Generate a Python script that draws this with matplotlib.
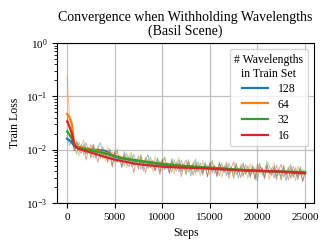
import numpy as np
import matplotlib
matplotlib.use("Agg")
import matplotlib.pyplot as plt

plt.rcParams['font.family'] = ['Liberation Serif', 'DejaVu Serif']
plt.rcParams['mathtext.fontset'] = 'stix'

labels = ["128", "64", "32", "16"]
colors = ["#1f77b4", "#ff7f0e", "#2ca02c", "#d62728"]

smooth_steps = [0, 250, 500, 750, 1000, 1500, 2000, 3000, 4000, 5000, 6000, 7000,
                8000, 9000, 10000, 12000, 14000, 16000, 18000, 20000, 22000, 25000]
smooth_128 = [0.016, 0.015, 0.0135, 0.0118, 0.0112, 0.0108, 0.0104, 0.0099, 0.0095, 0.0074, 0.0068,
              0.0063, 0.0059, 0.0056, 0.0053, 0.0049, 0.0046, 0.0044, 0.0042, 0.0040, 0.0039, 0.0037]
smooth_64 = [0.047, 0.040, 0.030, 0.013, 0.0115, 0.011, 0.0105, 0.0096, 0.0088, 0.0076, 0.0069,
             0.0064, 0.0060, 0.0057, 0.0054, 0.0050, 0.0047, 0.0044, 0.0042, 0.0040, 0.0039, 0.0037]
smooth_32 = [0.022, 0.019, 0.016, 0.0125, 0.0112, 0.0106, 0.0101, 0.0093, 0.0085, 0.0075, 0.0068,
             0.0064, 0.0060, 0.0057, 0.0054, 0.0050, 0.0047, 0.0045, 0.0042, 0.0040, 0.0039, 0.0038]
smooth_16 = [0.034, 0.027, 0.020, 0.0125, 0.0108, 0.0100, 0.0094, 0.0083, 0.0073, 0.0065, 0.0060,
             0.0055, 0.0052, 0.0050, 0.0048, 0.0046, 0.0045, 0.0043, 0.0041, 0.0040, 0.0039, 0.0036]

raw_steps = list(range(0, 25001, 250))
raw_128 = [0.0180, 0.0120, 0.0149, 0.0100, 0.0146, 0.0099, 0.0124, 0.0080, 0.0135, 0.0098,
           0.0086, 0.0120, 0.0069, 0.0108, 0.0136, 0.0079, 0.0095, 0.0063, 0.0104, 0.0069,
           0.0093, 0.0058, 0.0078, 0.0048, 0.0092, 0.0060, 0.0075, 0.0048, 0.0082, 0.0059,
           0.0052, 0.0072, 0.0040, 0.0064, 0.0081, 0.0047, 0.0056, 0.0040, 0.0070, 0.0049,
           0.0066, 0.0042, 0.0057, 0.0036, 0.0069, 0.0046, 0.0058, 0.0038, 0.0064, 0.0047,
           0.0041, 0.0058, 0.0032, 0.0052, 0.0066, 0.0038, 0.0046, 0.0033, 0.0058, 0.0041,
           0.0056, 0.0036, 0.0048, 0.0031, 0.0059, 0.0040, 0.0049, 0.0032, 0.0056, 0.0041,
           0.0036, 0.0050, 0.0029, 0.0046, 0.0057, 0.0034, 0.0041, 0.0030, 0.0051, 0.0036,
           0.0026, 0.0048, 0.0044, 0.0028, 0.0053, 0.0035, 0.0045, 0.0029, 0.0051, 0.0037,
           0.0032, 0.0046, 0.0026, 0.0042, 0.0053, 0.0030, 0.0037, 0.0027, 0.0047, 0.0033,
           0.0040]
raw_64 = [0.2300, 0.0450, 0.0360, 0.0125, 0.0135, 0.0077, 0.0121, 0.0151, 0.0086, 0.0103,
          0.0073, 0.0125, 0.0086, 0.0118, 0.0074, 0.0099, 0.0062, 0.0115, 0.0074, 0.0091,
          0.0057, 0.0096, 0.0068, 0.0060, 0.0083, 0.0046, 0.0072, 0.0090, 0.0052, 0.0062,
          0.0044, 0.0077, 0.0053, 0.0073, 0.0046, 0.0063, 0.0039, 0.0074, 0.0050, 0.0062,
          0.0040, 0.0069, 0.0049, 0.0044, 0.0061, 0.0035, 0.0055, 0.0070, 0.0040, 0.0049,
          0.0035, 0.0061, 0.0042, 0.0059, 0.0038, 0.0051, 0.0032, 0.0062, 0.0041, 0.0052,
          0.0034, 0.0059, 0.0042, 0.0037, 0.0053, 0.0030, 0.0047, 0.0060, 0.0035, 0.0043,
          0.0030, 0.0054, 0.0038, 0.0053, 0.0033, 0.0045, 0.0029, 0.0055, 0.0036, 0.0046,
          0.0030, 0.0052, 0.0038, 0.0034, 0.0047, 0.0027, 0.0043, 0.0055, 0.0032, 0.0039,
          0.0027, 0.0049, 0.0034, 0.0048, 0.0030, 0.0041, 0.0026, 0.0050, 0.0033, 0.0043,
          0.0036]
raw_32 = [0.0250, 0.0200, 0.0150, 0.0125, 0.0081, 0.0140, 0.0095, 0.0129, 0.0081, 0.0109,
          0.0068, 0.0128, 0.0084, 0.0105, 0.0067, 0.0113, 0.0081, 0.0070, 0.0096, 0.0052,
          0.0083, 0.0101, 0.0058, 0.0069, 0.0049, 0.0086, 0.0059, 0.0080, 0.0050, 0.0068,
          0.0043, 0.0081, 0.0053, 0.0067, 0.0044, 0.0074, 0.0053, 0.0047, 0.0066, 0.0037,
          0.0058, 0.0074, 0.0043, 0.0052, 0.0037, 0.0065, 0.0045, 0.0063, 0.0039, 0.0054,
          0.0034, 0.0065, 0.0042, 0.0054, 0.0035, 0.0060, 0.0044, 0.0039, 0.0054, 0.0031,
          0.0050, 0.0063, 0.0036, 0.0044, 0.0032, 0.0056, 0.0039, 0.0054, 0.0034, 0.0047,
          0.0029, 0.0057, 0.0038, 0.0048, 0.0031, 0.0053, 0.0039, 0.0035, 0.0048, 0.0027,
          0.0044, 0.0056, 0.0033, 0.0040, 0.0060, 0.0050, 0.0035, 0.0049, 0.0031, 0.0043,
          0.0027, 0.0051, 0.0034, 0.0044, 0.0029, 0.0049, 0.0036, 0.0032, 0.0046, 0.0026,
          0.0038]
raw_16 = [0.0400, 0.0280, 0.0210, 0.0094, 0.0140, 0.0099, 0.0085, 0.0116, 0.0064, 0.0100,
          0.0123, 0.0071, 0.0083, 0.0058, 0.0100, 0.0068, 0.0091, 0.0057, 0.0076, 0.0047,
          0.0088, 0.0058, 0.0072, 0.0046, 0.0078, 0.0056, 0.0048, 0.0067, 0.0037, 0.0059,
          0.0076, 0.0043, 0.0052, 0.0037, 0.0065, 0.0046, 0.0063, 0.0040, 0.0054, 0.0034,
          0.0065, 0.0043, 0.0055, 0.0036, 0.0061, 0.0045, 0.0040, 0.0056, 0.0031, 0.0051,
          0.0064, 0.0038, 0.0046, 0.0033, 0.0058, 0.0041, 0.0056, 0.0036, 0.0050, 0.0031,
          0.0059, 0.0040, 0.0051, 0.0032, 0.0056, 0.0041, 0.0037, 0.0050, 0.0029, 0.0046,
          0.0059, 0.0034, 0.0041, 0.0030, 0.0052, 0.0037, 0.0050, 0.0032, 0.0044, 0.0028,
          0.0054, 0.0036, 0.0046, 0.0030, 0.0051, 0.0037, 0.0033, 0.0047, 0.0027, 0.0043,
          0.0053, 0.0031, 0.0038, 0.0027, 0.0047, 0.0033, 0.0046, 0.0030, 0.0040, 0.0025,
          0.0036]

smooth_all = [smooth_128, smooth_64, smooth_32, smooth_16]
raw_all = [raw_128, raw_64, raw_32, raw_16]

fig = plt.figure(figsize=(3.32, 2.49), dpi=100)
ax = fig.add_axes([0.172, 0.185, 0.774, 0.642])

for raw, c in zip(raw_all, colors):
    n = min(len(raw), len(raw_steps))
    ax.plot(raw_steps[:n], raw[:n], color=c, lw=0.7, alpha=0.45)
for sm, c, lab in zip(smooth_all, colors, labels):
    ax.plot(smooth_steps, sm, color=c, lw=1.6, label=lab)

ax.set_yscale('log')
ax.set_ylim(1e-3, 1e0)
ax.set_xlim(-1050, 25950)
ax.set_xticks([0, 5000, 10000, 15000, 20000, 25000])
ax.grid(True, which='major', color='#c0c0c0', lw=0.9)
ax.tick_params(labelsize=8)
ax.set_xlabel("Steps", fontsize=8.5)
ax.set_ylabel("Train Loss", fontsize=8.5)
ax.set_title("Convergence when Withholding Wavelengths\n(Basil Scene)", fontsize=10, linespacing=1.0)
leg = ax.legend(title="# Wavelengths\nin Train Set", loc='upper right', fontsize=8.5,
                title_fontsize=8.5, framealpha=0.8, handlelength=2.2, labelspacing=0.3)
leg._legend_box.align = "center"
leg.get_title().set_multialignment('center')
for line in leg.get_lines():
    line.set_linewidth(1.6)

fig.savefig("out.png", dpi=100)
